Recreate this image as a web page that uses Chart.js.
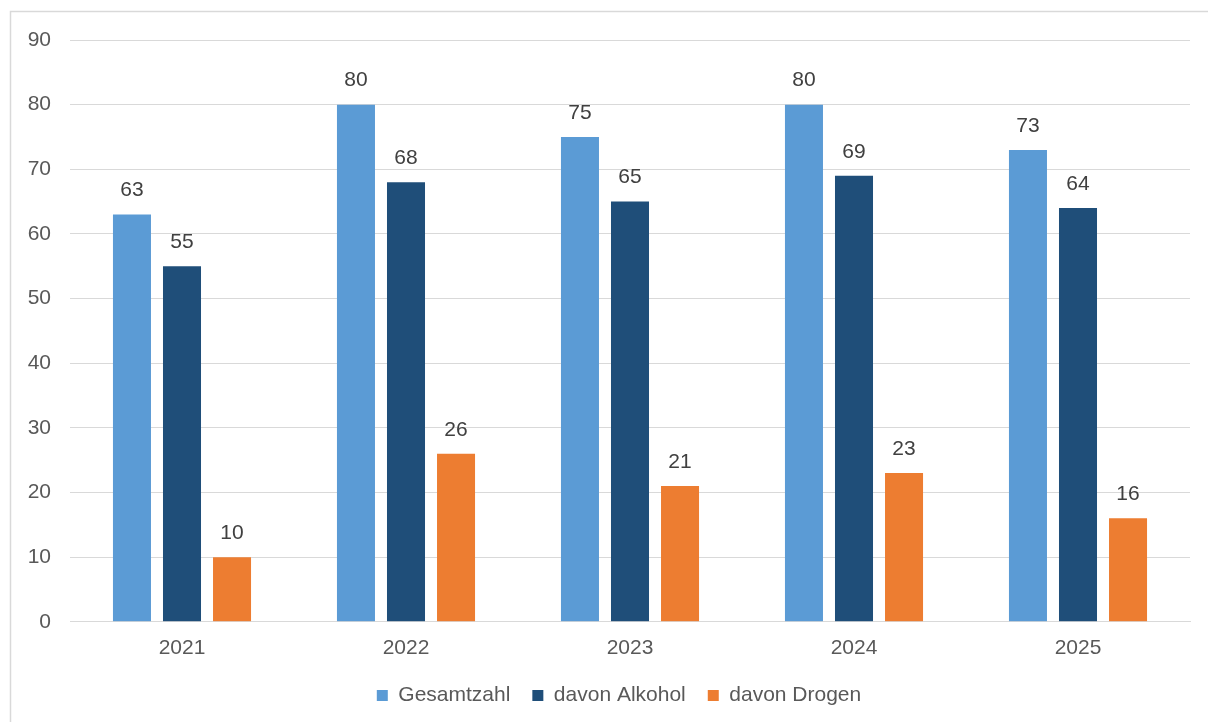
<!DOCTYPE html>
<html>
<head>
<meta charset="utf-8">
<script src="https://cdn.jsdelivr.net/npm/chart.js@4/dist/chart.umd.min.js"></script>
<style>
  html, body { margin: 0; padding: 0; background: #fff; }
  #wrap { width: 1208px; height: 722px; }
</style>
</head>
<body>
<div id="wrap"><canvas id="chart" width="1208" height="722"></canvas></div>
<script>
const years = ['2021', '2022', '2023', '2024', '2025'];
const gesamtzahl = [63, 80, 75, 80, 73];
const alkohol = [55, 68, 65, 69, 64];
const drogen = [10, 26, 21, 23, 16];

const FONT = "'Liberation Sans', Arial, sans-serif";

// Rahmen links und oben
const frame = {
    id: 'frame',
    beforeDraw(chart) {
        const ctx = chart.ctx;
        ctx.save();
        ctx.fillStyle = '#fff';
        ctx.fillRect(0, 0, chart.width, chart.height);
        ctx.strokeStyle = '#d9d9d9';
        ctx.lineWidth = 1.5;
        ctx.beginPath();
        ctx.moveTo(10.5, chart.height);
        ctx.lineTo(10.5, 11.5);
        ctx.lineTo(chart.width, 11.5);
        ctx.stroke();
        ctx.restore();
    }
};

// Legende etwas nach rechts rücken
const legendShift = {
    id: 'legendShift',
    afterLayout(chart) {
        if (chart.legend) {
            chart.legend.left += 24;
            chart.legend.right += 24;
        }
    }
};

// Werte über den Balken
const valueLabels = {
    id: 'valueLabels',
    afterDatasetsDraw(chart) {
        const ctx = chart.ctx;
        ctx.save();
        ctx.font = '21px ' + FONT;
        ctx.fillStyle = '#404040';
        ctx.textAlign = 'center';
        ctx.textBaseline = 'middle';
        chart.data.datasets.forEach((ds, i) => {
            chart.getDatasetMeta(i).data.forEach((bar, j) => {
                ctx.fillText(ds.data[j], bar.x, bar.y - 24);
            });
        });
        ctx.restore();
    }
};

new Chart(document.getElementById('chart'), {
    type: 'bar',
    data: {
        labels: years,
        datasets: [
            { label: 'Gesamtzahl', data: gesamtzahl, backgroundColor: '#5B9BD5' },
            { label: 'davon Alkohol', data: alkohol, backgroundColor: '#1F4E79' },
            { label: 'davon Drogen', data: drogen, backgroundColor: '#ED7D31' }
        ]
    },
    options: {
        responsive: false,
        animation: false,
        categoryPercentage: 0.67,
        barPercentage: 0.76,
        layout: { padding: { top: 40, right: 18, left: 0, bottom: 6 } },
        scales: {
            x: {
                clip: false,
                afterFit(scale) { scale.height -= 12; },
                grid: { display: false, drawTicks: false },
                border: { color: '#d9d9d9', width: 1 },
                ticks: { color: '#595959', font: { size: 21, family: FONT }, padding: 14 }
            },
            y: {
                min: 0,
                max: 90,
                afterFit(scale) { scale.width = 70; },
                grid: { color: '#d9d9d9', lineWidth: 1, drawTicks: false },
                border: { display: false },
                ticks: { stepSize: 10, color: '#595959', font: { size: 21, family: FONT }, padding: 19 }
            }
        },
        plugins: {
            tooltip: { enabled: false },
            legend: {
                position: 'bottom',
                labels: {
                    boxWidth: 11,
                    boxHeight: 11,
                    padding: 22,
                    color: '#595959',
                    font: { size: 21, family: FONT }
                }
            }
        }
    },
    plugins: [frame, legendShift, valueLabels]
});
</script>
</body>
</html>
